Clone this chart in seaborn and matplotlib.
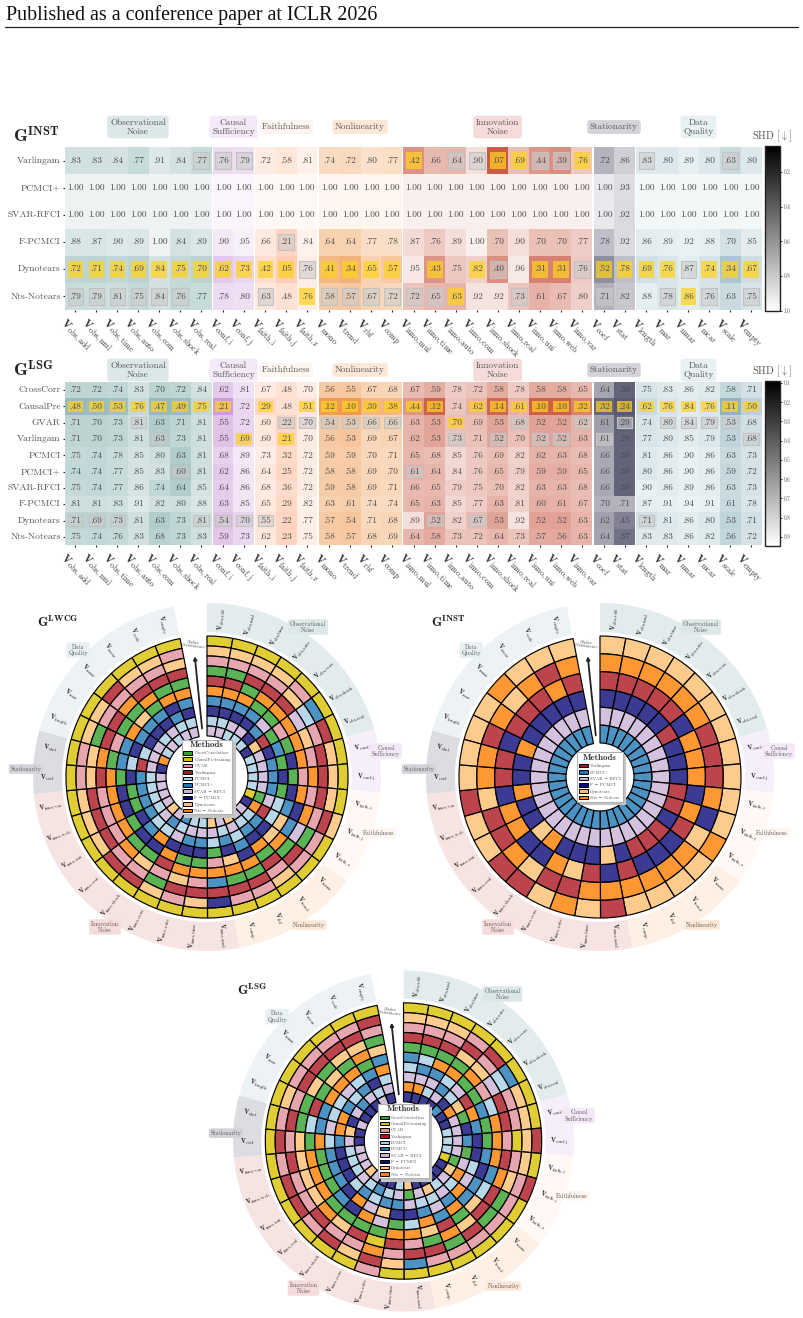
import numpy as np
import matplotlib
matplotlib.use("Agg")
import matplotlib.pyplot as plt
import seaborn as sns
from matplotlib.colors import LinearSegmentedColormap, Normalize, to_rgba
from matplotlib.cm import ScalarMappable
from matplotlib.lines import Line2D
from matplotlib.patches import Patch, Rectangle
from matplotlib.transforms import ScaledTranslation

W, H = 804, 1318
GREY = "#555555"

# Perturbation variables, one list per group
obs_vars = ["obs,add", "obs,mul", "obs,time", "obs,auto", "obs,com", "obs,shock", "obs,real"]
conf_vars = ["conf,i", "conf,j"]
faith_vars = ["faith,i", "faith,j", "faith,z"]
nonlin_vars = ["mono", "trend", "rbf", "comp"]
inno_vars = ["inno,mul", "inno,time", "inno,auto", "inno,com", "inno,shock", "inno,real",
             "inno,uni", "inno,web", "inno,var"]
stat_vars = ["coef", "stat"]
quality_vars = ["length", "mar", "mnar", "mcar", "scale", "empty"]
group_vars = [obs_vars, conf_vars, faith_vars, nonlin_vars, inno_vars, stat_vars, quality_vars]
group_names = ["Observational\nNoise", "Causal\nSufficiency", "Faithfulness", "Nonlinearity",
               "Innovation\nNoise", "Stationarity", "Data\nQuality"]

# Group colours: (low SHD, SHD of one) for the cells, then the tint of tags and rim bands
cell_low = ["#4a8888", "#bf85cf", "#fdcbb2", "#ee9040", "#c75039", "#2c2c48", "#85acb8"]
cell_high = ["#ecf3f2", "#faf5fb", "#fff9f6", "#fdf5ee", "#f9efed", "#e9e9ed", "#f2f7f8"]
band_tint = ["#e3ecec", "#f6effa", "#fff8f5", "#fef0e4", "#f6e4e3", "#dcdde1", "#edf3f5"]
tag_tint = ["#dce7e7", "#f4e9f8", "#fff5f0", "#fde8d8", "#f5dcda", "#d3d4da", "#e8f0f2"]

# SHD scores for the instantaneous graph
inst_methods = ["Varlingam", "PCMCI+", "SVAR-RFCI", "F-PCMCI", "Dynotears", "Nts-Notears"]
inst_varlingam = [.83, .83, .84, .77, .91, .84, .77, .76, .79, .72, .58, .81, .74, .72, .80, .77, .42, .66, .64, .90, .07, .69, .44, .39, .76, .72, .86, .83, .80, .89, .80, .63, .80]
inst_pcmci_plus = [1.00] * 26 + [.93] + [1.00] * 6
inst_svar = [1.00] * 26 + [.92] + [1.00] * 6
inst_fpcmci = [.88, .87, .90, .89, 1.00, .84, .89, .90, .95, .66, .21, .84, .64, .64, .77, .78, .87, .76, .89, 1.00, .70, .90, .70, .70, .77, .78, .92, .86, .89, .92, .88, .70, .85]
inst_dynotears = [.72, .71, .74, .69, .84, .75, .70, .62, .73, .42, .05, .76, .41, .34, .65, .57, .95, .43, .75, .82, .40, .96, .31, .31, .76, .52, .78, .69, .76, .87, .74, .34, .67]
inst_notears = [.79, .79, .81, .75, .84, .76, .77, .78, .80, .63, .48, .76, .58, .57, .67, .72, .72, .65, .63, .92, .92, .73, .61, .67, .80, .71, .82, .88, .78, .86, .76, .63, .75]
inst_best = [[16, 20, 21, 24], [], [], [],
             [0, 1, 2, 3, 4, 5, 6, 7, 8, 9, 10, 12, 13, 14, 15, 17, 19, 22, 23, 25, 26, 27, 28, 30, 31, 32],
             [11, 18, 29]]
inst_second = [[6, 7, 8, 18, 19, 22, 23, 27, 31], [], [], [10], [11, 20, 24, 29],
               [0, 1, 2, 3, 4, 5, 9, 12, 13, 14, 15, 16, 17, 21, 25, 26, 28, 30, 32]]

# SHD scores for the lagged graph
lsg_methods = ["CrossCorr", "CausalPre", "GVAR", "Varlingam", "PCMCI", "PCMCI+", "SVAR-RFCI",
               "F-PCMCI", "Dynotears", "Nts-Notears"]
lsg_crosscorr = [.72, .72, .74, .83, .70, .72, .84, .62, .81, .67, .48, .70, .56, .55, .67, .68, .67, .59, .78, .72, .58, .78, .58, .58, .65, .64, .30, .75, .83, .86, .82, .58, .71]
lsg_causalpre = [.48, .50, .53, .76, .47, .49, .75, .21, .72, .29, .48, .51, .12, .10, .39, .38, .44, .12, .74, .62, .14, .61, .10, .10, .32, .32, .24, .62, .76, .84, .76, .11, .50]
lsg_gvar = [.71, .70, .73, .81, .63, .71, .81, .55, .72, .60, .22, .70, .54, .53, .66, .66, .63, .53, .70, .69, .53, .68, .52, .52, .62, .61, .29, .74, .80, .84, .79, .53, .68]
lsg_varlingam = [.71, .70, .73, .81, .63, .73, .81, .55, .69, .60, .21, .70, .56, .53, .69, .67, .62, .53, .73, .71, .52, .70, .52, .52, .63, .61, .29, .77, .80, .85, .79, .53, .68]
lsg_pcmci = [.75, .74, .78, .85, .80, .63, .81, .68, .89, .73, .32, .72, .59, .59, .70, .71, .65, .68, .85, .76, .69, .82, .62, .63, .68, .66, .30, .81, .86, .90, .86, .63, .73]
lsg_pcmci_plus = [.74, .74, .77, .85, .83, .60, .81, .62, .86, .64, .25, .72, .58, .58, .69, .70, .61, .64, .84, .76, .65, .79, .59, .59, .65, .66, .30, .80, .86, .90, .86, .59, .72]
lsg_svar = [.75, .74, .77, .86, .74, .64, .85, .64, .86, .68, .36, .72, .59, .58, .69, .71, .66, .65, .79, .75, .70, .82, .63, .63, .68, .66, .30, .90, .86, .89, .86, .63, .73]
lsg_fpcmci = [.81, .81, .83, .91, .82, .80, .88, .63, .85, .65, .29, .82, .63, .61, .74, .74, .65, .63, .85, .77, .63, .81, .60, .61, .67, .70, .71, .87, .91, .94, .91, .61, .78]
lsg_dynotears = [.71, .69, .73, .81, .63, .73, .81, .54, .70, .55, .22, .77, .57, .54, .71, .68, .89, .52, .82, .67, .53, .92, .52, .52, .63, .62, .45, .71, .81, .86, .80, .53, .71]
lsg_notears = [.75, .74, .76, .83, .68, .73, .83, .59, .73, .62, .23, .75, .58, .57, .68, .69, .64, .58, .73, .72, .64, .73, .57, .56, .63, .64, .37, .83, .83, .86, .82, .56, .72]
lsg_best = [[], [0, 1, 2, 3, 4, 5, 6, 7, 9, 11, 12, 13, 14, 15, 16, 17, 19, 20, 21, 22, 23, 24, 25, 26, 27, 28, 29, 30, 31, 32],
            [18], [8, 10], [], [], [], [], [], []]
lsg_second = [[], [], [3, 10, 11, 12, 13, 14, 15, 21, 24, 26, 28, 29, 30, 31],
              [4, 18, 20, 22, 23, 25, 32], [], [5, 16], [], [],
              [0, 1, 2, 6, 7, 8, 9, 17, 19, 27], []]

# Ring order of the methods in the large graph, outermost first, for each variable
method_keys = "CPGVM+SFDN"
lwcg_rings = ["PDGCVN+FMS", "PDGCVN+FMS", "PDGVCN+FSM", "PDGVNC+FSM", "PGDVNCS+FM", "P+MSNGCVDF",
              "PVGDNC+FSM", "PDVGNFC+SM", "PDVNGCF+SM", "PDVGNFC+SM", "DVGNF+MSCP", "PGCS+DMVNF",
              "PGVCNDF+MS", "PDGVCNF+MS", "PGVCNF+MSD", "PGVCNDF+MS", "PFV+NGCMSD", "PDVGNCF+SM",
              "PGVDNCF+SM", "PDCGVNFSM+", "PVGDCFNM+S", "PVGNCF+MSD", "PDVGNCF+MS", "PDVGNFC+MS",
              "PDVGNFC+MS", "PGDVNCF+MS", "PGDNC+MVSF", "PDCVG+FMSN", "PDGVCN+FSM", "PVGNCD+FMS",
              "PDGVNC+FSM", "PDGVCNF+MS", "PGDVCN+FMS"]

legend_labels = ["CrossCorrelation", "CausalPretraining", "CVAR", "Varlingam", "PCMCI", "PCMCI+",
                 "SVAR \u2212 RFCI", "F \u2212 PCMCI", "Dynotears", "Nts \u2212 Notears"]
method_palette = sns.color_palette(["#33a02c", "#d8c100", "#e2909a", "#ab1520", "#a6cee3", "#1f78b4",
                                    "#cab2d6", "#0a0a78", "#fdbf6f", "#ff7f00"])

sns.set_theme(style="white")
plt.rcParams.update({"font.family": "cmr10", "mathtext.fontset": "cm", "axes.unicode_minus": False,
                     "axes.formatter.use_mathtext": True})
fig = plt.figure(figsize=(W / 100, H / 100), dpi=100, facecolor="white")


def fx(x):
    return x / W


def fy(y):
    return 1 - y / H


def px_axes(x0, y0, x1, y1, **kw):
    return fig.add_axes([fx(x0), fy(y1), (x1 - x0) / W, (y1 - y0) / H], **kw)


def cell_text(v):
    return "1.00" if v >= 0.995 else f"{v:.2f}"[1:]


def var_label(name):
    return rf"$\mathbf{{V}}_{{\mathrm{{{name}}}}}$"


def tag(x, y, text, colour, size):
    fig.text(fx(x), fy(y), text, ha="center", va="center", fontsize=size, color=GREY,
             linespacing=1.05, zorder=5,
             bbox=dict(boxstyle="round,pad=0.3", fc=colour, ec="none"))


group_edges = [(65.0, 211.7), (212.8, 254.0), (255.1, 317.3), (318.8, 402.3), (403.3, 592.3),
               (594.0, 634.7), (636.0, 761.7)]
tag_x = [138, 233.5, 286, 360, 497.5, 614, 698.5]


def draw_heatmap(scores, methods, best, second, top, bottom, box_h, tag_y, title, title_y,
                 vmin, vmax, cbar_ticks, cbar_fmt, shd_y):
    scores = np.array(scores)
    start = 0
    for g, names in enumerate(group_vars):
        stop = start + len(names)
        x0, x1 = group_edges[g]
        ax = px_axes(x0, top, x1, bottom)
        block = scores[:, start:stop]
        cmap = LinearSegmentedColormap.from_list(f"group{g}", [cell_low[g], cell_high[g]])
        labels = [[cell_text(v) for v in row] for row in block]
        sns.heatmap(block, ax=ax, cmap=cmap, vmin=0, vmax=1, cbar=False, annot=labels, fmt="",
                    annot_kws={"fontsize": 6.7, "color": "#4a4a4a"},
                    xticklabels=[var_label(n) for n in names],
                    yticklabels=methods if g == 0 else False)
        cell_w = (x1 - x0) / len(names)
        cell_h = (bottom - top) / len(methods)
        bw, bh = 15.7 / cell_w, box_h / cell_h
        for r in range(len(methods)):
            for c in range(start, stop):
                px, py = c - start + 0.5 - bw / 2, r + 0.5 - bh / 2
                if c in best[r]:
                    ax.add_patch(Rectangle((px, py), bw, bh, fc=to_rgba("#ffd21f", 0.72), ec="none", zorder=2))
                elif c in second[r]:
                    ax.add_patch(Rectangle((px, py), bw, bh, fc=to_rgba("#cccccc", 0.6),
                                           ec="#c2c2c2", lw=0.8, zorder=2))
        ax.set_xticklabels(ax.get_xticklabels(), rotation=-45, ha="left", va="top",
                           rotation_mode="anchor", fontsize=8.2, color="#333333")
        ax.tick_params(axis="x", length=1.6, width=0.8, pad=1, color="#222222", bottom=True)
        shift = ScaledTranslation(-8.5 / 100, -2.5 / 100, fig.dpi_scale_trans)
        for lab in ax.get_xticklabels():
            lab.set_transform(lab.get_transform() + shift)
        if g == 0:
            ax.set_yticklabels(methods, rotation=0, fontsize=6.9, color=GREY)
            ax.tick_params(axis="y", length=1.6, width=0.8, pad=1.5, color="#222222", left=True)
        else:
            ax.tick_params(axis="y", length=0)
        tag(tag_x[g], tag_y, group_names[g], tag_tint[g], 6.6)
        start = stop
    fig.text(fx(13), fy(title_y), title, fontsize=12.8, color="#222222", ha="left", va="center")
    cax = px_axes(765, top - 1, 780, bottom + 0.5)
    bar = fig.colorbar(ScalarMappable(Normalize(vmin, vmax), "gray"), cax=cax)
    bar.ax.invert_yaxis()
    bar.set_ticks(cbar_ticks)
    bar.set_ticklabels([cbar_fmt % t for t in cbar_ticks], fontsize=3.8, color=GREY)
    bar.ax.tick_params(length=1.5, width=0.6, pad=1.2, right=True, color="#222222")
    bar.outline.set_edgecolor("#222222")
    bar.outline.set_linewidth(1.0)
    fig.text(fx(772), fy(shd_y), r"SHD [$\downarrow$]", ha="center", va="center", fontsize=7.4, color=GREY)


draw_heatmap([inst_varlingam, inst_pcmci_plus, inst_svar, inst_fpcmci, inst_dynotears, inst_notears],
             inst_methods, inst_best, inst_second, 147, 310, 16.7, 127,
             r"$\mathbf{G}^{\mathbf{INST}}$", 135, 0.05, 1.0, [.2, .4, .6, .8, 1.0], "%.1f", 136)
draw_heatmap([lsg_crosscorr, lsg_causalpre, lsg_gvar, lsg_varlingam, lsg_pcmci, lsg_pcmci_plus,
              lsg_svar, lsg_fpcmci, lsg_dynotears, lsg_notears],
             lsg_methods, lsg_best, lsg_second, 382, 545, 11.3, 370,
             r"$\mathbf{G}^{\mathbf{LSG}}$", 369, 0.09, 0.945,
             [.1, .2, .3, .4, .5, .6, .7, .8, .9], "%.1f", 371)


def ring_orders(scores, best, second, tie):
    """Outermost-first method indices per variable, breaking ties by the highlighted cells."""
    scores = np.array(scores)
    orders = []
    for c in range(scores.shape[1]):
        key = lambda i: (scores[i, c], 0 if c in best[i] else 1 if c in second[i] else 2, tie * i)
        orders.append(sorted(range(scores.shape[0]), key=key))
    return orders


tag_offsets = [(101, -150), (179, -26), (172, 56), (102, 148), (-102, 150), (-181, -8), (-129, -127)]
all_vars = [n for names in group_vars for n in names]
SPAN = np.deg2rad(349.0)


def draw_rose(cx, cy, scale, orders, palette, labels, title, title_xy, inner):
    half = 185 * scale
    ax = px_axes(cx - half, cy - half, cx + half, cy + half, projection="polar")
    ax.set_theta_zero_location("N")
    ax.set_theta_direction(-1)
    ax.set_ylim(0, 185)
    ax.set_axis_off()
    width = SPAN / len(all_vars)
    outer = 141.0
    n_rings = len(orders[0])
    ring_w = (outer - inner) / n_rings
    # Rim bands with the variable names
    start = 0
    for g, names in enumerate(group_vars):
        ax.bar(start * width, 29, width=width * len(names), bottom=145, align="edge",
               color=band_tint[g], linewidth=0)
        start += len(names)
        dx, dy = tag_offsets[g]
        tag(cx + dx * scale, cy + dy * scale, group_names[g], tag_tint[g], 4.3)
    for c, name in enumerate(all_vars):
        theta = (c + 0.5) * width
        deg = np.rad2deg(theta)
        rot = 90 - deg if deg < 180 else 270 - deg
        ax.text(theta, 159, var_label(name), rotation=rot, rotation_mode="anchor",
                ha="center", va="center", fontsize=4.7, color="#222222")
        # One column of ranked methods
        for pos, m in enumerate(orders[c]):
            ax.bar(c * width, ring_w, width=width, bottom=outer - (pos + 1) * ring_w, align="edge",
                   color=to_rgba(palette[m], 0.8), edgecolor="black", linewidth=0.85)
    # Direction of better scores, inside the gap
    theta = SPAN + (2 * np.pi - SPAN) / 2 - 0.005
    ax.annotate("", xy=(theta, 124), xytext=(theta, inner + 5),
                arrowprops=dict(arrowstyle="-|>,head_width=0.08,head_length=0.15", color="#222222", lw=1.3))
    ax.text(theta, 133, "Higher\nPerformance", fontsize=3.1, color=GREY, ha="center", va="center",
            rotation=-6, linespacing=0.9)
    handles = [Patch(facecolor=c, edgecolor="black", linewidth=0.7) for c in palette]
    leg = ax.legend(handles, labels, loc="center", bbox_to_anchor=(0.5, 0.5), title="Methods",
                    prop={"family": ["cmr10", "DejaVu Serif"], "size": 3.3 * scale},
                    title_fontproperties={"family": "cmb10", "size": 6.4 * scale},
                    labelcolor=GREY, frameon=True, fancybox=False,
                    shadow={"color": "#c4c4c4", "alpha": 1}, edgecolor="#b0b0b0",
                    handlelength=2.0, handleheight=0.8, labelspacing=0.45, handletextpad=0.5,
                    borderpad=0.3, borderaxespad=0)
    leg.get_frame().set_linewidth(0.8)
    leg.get_title().set_color("#333333")
    leg.set_zorder(10)
    fig.text(fx(title_xy[0]), fy(title_xy[1]), title, fontsize=9.5, color="#222222", ha="left", va="center")


lwcg_orders = [[method_keys.index(k) for k in col] for col in lwcg_rings]
inst_orders = ring_orders([inst_varlingam, inst_pcmci_plus, inst_svar, inst_fpcmci, inst_dynotears, inst_notears],
                          inst_best, inst_second, -1)
lsg_orders = ring_orders([lsg_crosscorr, lsg_causalpre, lsg_gvar, lsg_varlingam, lsg_pcmci, lsg_pcmci_plus,
                          lsg_svar, lsg_fpcmci, lsg_dynotears, lsg_notears], lsg_best, lsg_second, 1)

draw_rose(207, 777, 1.0, lwcg_orders, method_palette, legend_labels,
          r"$\mathbf{G}^{\mathbf{LWCG}}$", (37, 622), 41)
inst_picks = [3, 5, 6, 7, 8, 9]
draw_rose(600, 777, 1.0, inst_orders, [method_palette[i] for i in inst_picks],
          [legend_labels[i] for i in inst_picks], r"$\mathbf{G}^{\mathbf{INST}}$", (431, 622), 34)
draw_rose(403.5, 1141, 0.98, lsg_orders, method_palette, legend_labels,
          r"$\mathbf{G}^{\mathbf{LSG}}$", (237, 990), 40)

# Running head of the page
fig.text(fx(6), fy(20), "Published as a conference paper at ICLR 2026", fontsize=14.4,
         family="Liberation Serif", color="#111111", ha="left", va="baseline")
fig.add_artist(Line2D([fx(5), fx(798)], [fy(27), fy(27)], color="#222222", lw=0.9))

fig.savefig("out.png", dpi=100, facecolor="white")
